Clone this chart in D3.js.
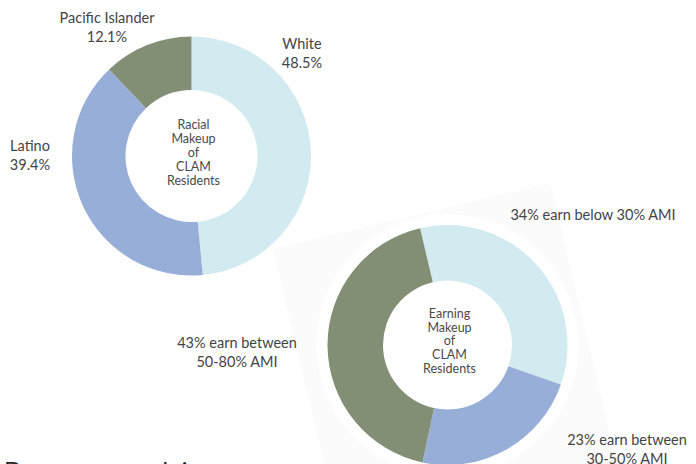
<!DOCTYPE html>
<html>
<head>
<meta charset="utf-8">
<script src="https://cdn.jsdelivr.net/npm/d3@7"></script>
<style>
  html, body { margin: 0; padding: 0; background: #ffffff; }
  svg { display: block; }
  text { font-family: Lato, "Noto Sans", sans-serif; fill: #444; }
</style>
</head>
<body>
<svg id="chart" width="696" height="464"></svg>
<script>
// ---- data ----
const raceCategories = ["White", "Latino", "Pacific Islander"];
const raceValues = [48.5, 39.4, 12.1];
const raceLabels = ["48.5%", "39.4%", "12.1%"];

const incomeCategories = ["34% earn below 30% AMI", "23% earn between 30-50% AMI", "43% earn between 50-80% AMI"];
const incomeValues = [34, 23, 43];

const sliceColors = ["#d2ebf0", "#97aed9", "#838f75"];

const centerText1 = ["Racial", "Makeup", "of", "CLAM", "Residents"];
const centerText2 = ["Earning", "Makeup", "of", "CLAM", "Residents"];

// ---- drawing ----
const svg = d3.select("#chart");
const color = d3.scaleOrdinal().domain([0, 1, 2]).range(sliceColors);

// faint rotated backdrop behind the second donut
const c2 = { x: 447.5, y: 345 };
const bg = svg.append("g")
  .attr("transform", `translate(${c2.x},${c2.y}) rotate(-13.4)`);
bg.append("rect")
  .attr("x", -147.5).attr("y", -133.8)
  .attr("width", 285).attr("height", 320)
  .attr("fill", "#fbfbfb");
bg.append("circle").attr("r", 131).attr("fill", "#ffffff");

function donut(cx, cy, rOuter, rInner, values, startDeg, centerLines, lineGap, textDy) {
  const pie = d3.pie().sort(null)
    .startAngle(startDeg * Math.PI / 180)
    .endAngle(startDeg * Math.PI / 180 + 2 * Math.PI);
  const arc = d3.arc().innerRadius(rInner).outerRadius(rOuter);
  const g = svg.append("g").attr("transform", `translate(${cx},${cy})`);
  g.selectAll("path")
    .data(pie(values))
    .join("path")
    .attr("d", arc)
    .attr("fill", (d, i) => color(i));
  const n = centerLines.length;
  g.selectAll("text.center")
    .data(centerLines)
    .join("text")
    .attr("class", "center")
    .attr("text-anchor", "middle")
    .attr("x", 2)
    .attr("y", (d, i) => textDy + (i - (n - 1) / 2) * lineGap)
    .attr("dy", "0.35em")
    .style("font-size", "12.5px")
    .style("fill", "#4a4a4a")
    .text(d => d);
  return g;
}

donut(191.5, 156, 119.5, 66, raceValues, 0, centerText1, 14, -3);
donut(c2.x, c2.y, 120, 64.5, incomeValues, -13.2, centerText2, 13.8, -4);

// ---- labels ----
function label(lines, x, y, anchor, gap) {
  const t = svg.append("text")
    .attr("text-anchor", anchor || "middle")
    .style("font-size", "14.5px");
  lines.forEach((s, i) => {
    t.append("tspan").attr("x", x).attr("y", y + i * (gap || 18.5)).text(s);
  });
}

label([raceCategories[2], raceLabels[2]], 107, 23);
label([raceCategories[0], raceLabels[0]], 302, 49);
label([raceCategories[1], raceLabels[1]], 30, 151);

label(["34% earn below 30% AMI"], 593, 220);
label(["43% earn between", "50-80% AMI"], 237, 348);
label(["23% earn between", "30-50% AMI"], 627, 445);

// cut-off heading at bottom
svg.append("text")
  .attr("x", 4).attr("y", 478.5)
  .style("font-size", "24px")
  .style("letter-spacing", "6px")
  .style("fill", "#222")
  .text("Demographics");
</script>
</body>
</html>
